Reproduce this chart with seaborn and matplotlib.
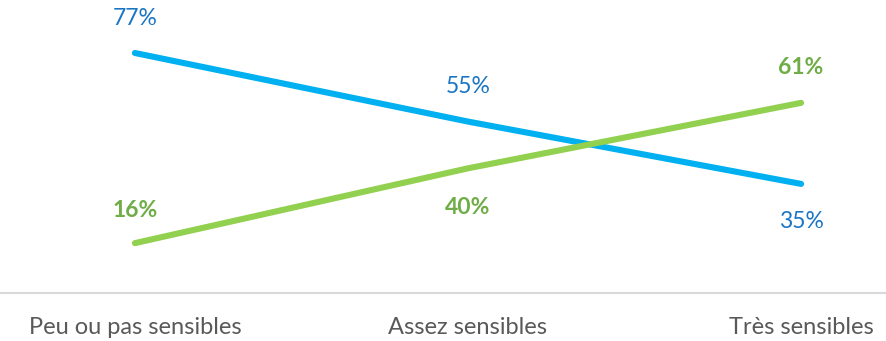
import matplotlib
matplotlib.use("Agg")
import matplotlib.pyplot as plt
import seaborn as sns
import pandas as pd

categories = ["Peu ou pas sensibles", "Assez sensibles", "Très sensibles"]
blue_values = [77, 55, 35]
green_values = [16, 40, 61]
blue_labels = ["77%", "55%", "35%"]
green_labels = ["16%", "40%", "61%"]

sns.set_theme(style="white")
plt.rcParams['font.family'] = ['Lato', 'DejaVu Sans']

df = pd.DataFrame({
    "x": list(range(3)) * 2,
    "value": blue_values + green_values,
    "series": ["blue"] * 3 + ["green"] * 3,
})

fig = plt.figure(figsize=(8.87, 3.41), dpi=100)
ax = fig.add_axes([0, 48 / 341, 1, 293 / 341])

sns.lineplot(data=df, x="x", y="value", hue="series",
             palette={"blue": "#00B0F0", "green": "#92D050"},
             linewidth=4.4, legend=False, ax=ax, solid_capstyle="round")

ax.set_xlim(-0.405, 2.258)
ax.set_ylim(0, 94)

blue_off = [11.2, 11.2, -12.2]
green_off = [10.6, -12.6, 11.2]
for i in range(3):
    ax.text(i, blue_values[i] + blue_off[i], blue_labels[i], ha="center", va="center",
            color="#1A75C4", fontsize=16.5)
    ax.text(i, green_values[i] + green_off[i], green_labels[i], ha="center", va="center",
            color="#70AD47", fontsize=16.5, fontweight="bold")

for s in ["top", "right", "left"]:
    ax.spines[s].set_visible(False)
ax.spines["bottom"].set_color("#D9D9D9")
ax.spines["bottom"].set_linewidth(1.5)
ax.set_yticks([])
ax.set_xticks(range(3))
ax.set_xticklabels(categories, color="#595959", fontsize=17)
ax.tick_params(axis="x", length=0, pad=17)
ax.set_xlabel("")
ax.set_ylabel("")

fig.savefig("out.png", dpi=100)
